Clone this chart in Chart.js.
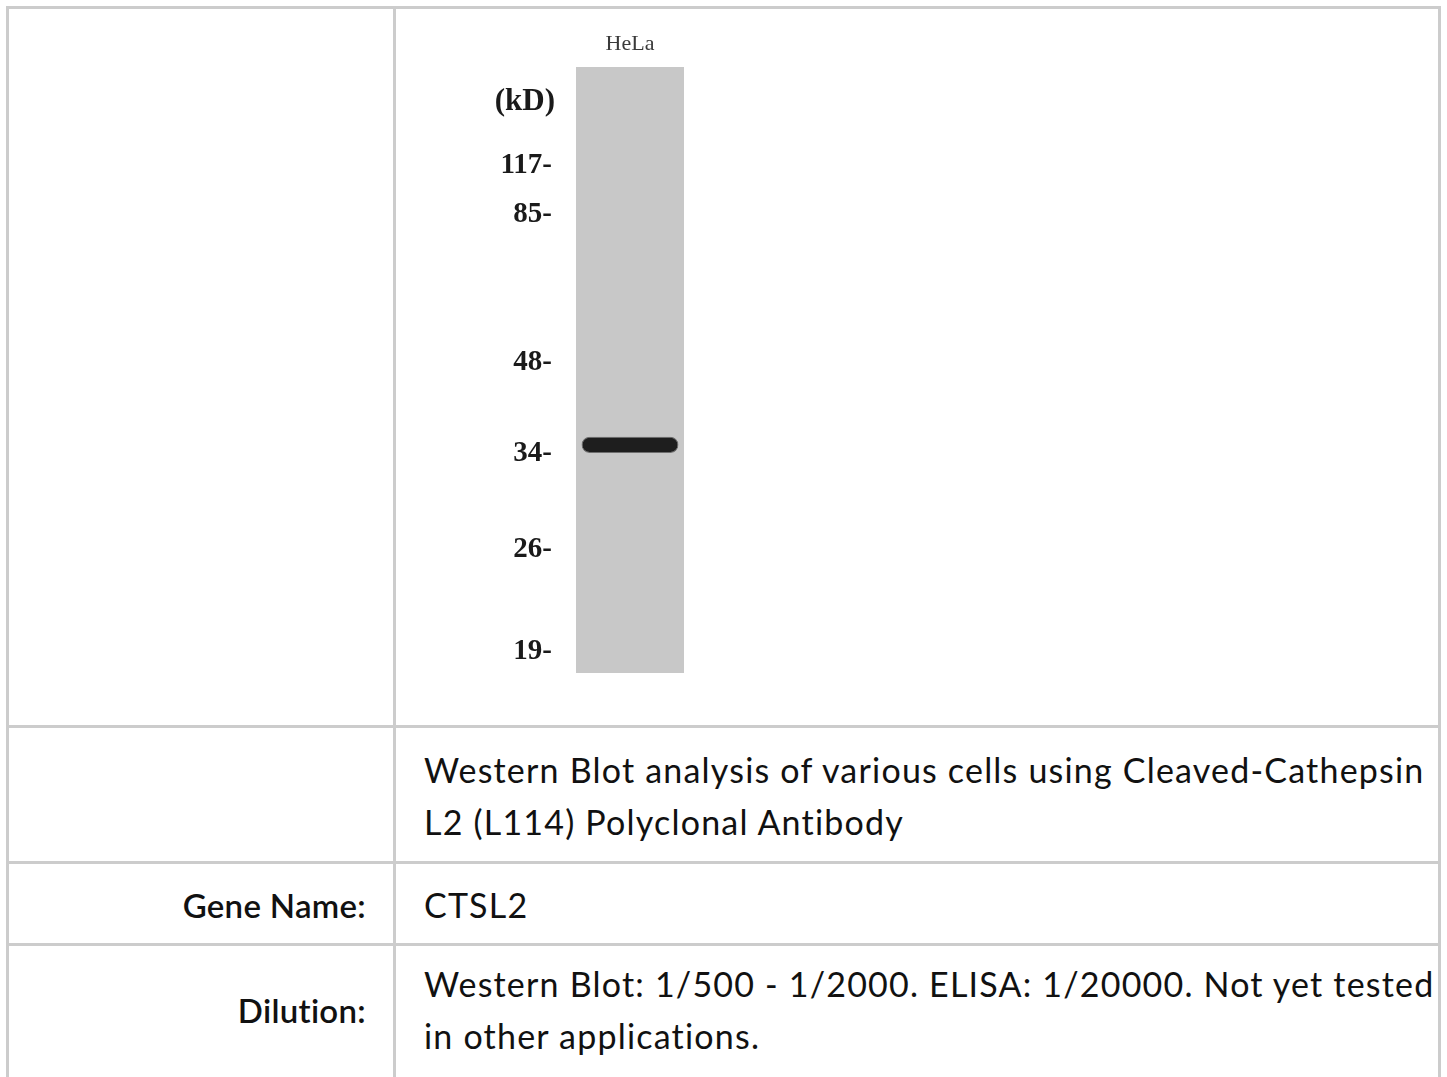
<!DOCTYPE html>
<html>
<head>
<meta charset="utf-8">
<script src="https://cdn.jsdelivr.net/npm/chart.js@4.4.1/dist/chart.umd.min.js"></script>
<style>
  body { margin: 0; background: #fff; width: 1447px; height: 1077px; overflow: hidden; position: relative; }
  .ln { position: absolute; background: rgb(204,204,204); }
  .txt { position: absolute; font-family: Lato, 'Liberation Sans', Arial, sans-serif; font-size: 34px; line-height: 52px; color: #111; letter-spacing: 1.2px; white-space: nowrap; }
  .lbl { text-align: right; font-weight: 600; font-size: 33px; letter-spacing: 0.3px; }
  #blot { position: absolute; left: 420px; top: 9px; width: 300px; height: 716px; }
</style>
</head>
<body>
<!-- table lines -->
<div class="ln" style="left:6px;top:6px;width:1435px;height:3px"></div>
<div class="ln" style="left:6px;top:6px;width:3px;height:1071px"></div>
<div class="ln" style="left:1438px;top:6px;width:3px;height:1071px"></div>
<div class="ln" style="left:393px;top:6px;width:3px;height:1071px"></div>
<div class="ln" style="left:6px;top:725px;width:1435px;height:3px"></div>
<div class="ln" style="left:6px;top:861px;width:1435px;height:3px"></div>
<div class="ln" style="left:6px;top:943px;width:1435px;height:3px"></div>

<div id="blot"><canvas id="wb"></canvas></div>

<div class="txt" style="left:424px;top:744px">Western Blot analysis of various cells using Cleaved-Cathepsin<br>L2 (L114) Polyclonal Antibody</div>
<div class="txt lbl" style="left:9px;width:357px;top:879px">Gene Name:</div>
<div class="txt" style="left:424px;top:879px">CTSL2</div>
<div class="txt lbl" style="left:9px;width:357px;top:984px">Dilution:</div>
<div class="txt" style="left:424px;top:958px">Western Blot: 1/500 - 1/2000. ELISA: 1/20000. Not yet tested<br>in other applications.</div>

<script>
// lane and markers (migration as % of lane length from the top of the gel)
const lanes = ['HeLa'];
const markerKD = [117, 85, 48, 34, 26, 19];
const markerMigration = [16.2, 24.3, 48.7, 63.7, 79.7, 96.5];
const laneSpan = [0, 100];
const bandSpan = [61.0, 63.7]; // the ~35 kD band in HeLa
const unitLabel = '(kD)';

const serif = '"Liberation Serif", "Times New Roman", serif';

const kdHeader = {
  id: 'kdHeader',
  afterDraw(chart) {
    const c = chart.ctx, a = chart.chartArea;
    c.save();
    c.font = 'bold 31px ' + serif;
    c.fillStyle = '#1a1a1a';
    c.textAlign = 'right';
    c.textBaseline = 'middle';
    c.fillText(unitLabel, a.left - 5, a.top + 35);
    c.restore();
  }
};

const ctx = document.getElementById('wb').getContext('2d');
const wb = new Chart(ctx, {
  type: 'bar',
  data: {
    labels: lanes,
    datasets: [
      {
        label: 'band',
        data: [bandSpan],
        backgroundColor: '#1e1e1e',
        borderColor: 'rgba(50,50,50,0.6)',
        borderWidth: 1,
        borderRadius: 8,
        borderSkipped: false,
        barPercentage: 0.693,
        categoryPercentage: 1,
        grouped: false,
        order: 0
      },
      {
        label: 'lane',
        data: [laneSpan],
        backgroundColor: 'rgb(200,200,200)',
        borderWidth: 0,
        barPercentage: 0.7714,
        categoryPercentage: 1,
        grouped: false,
        order: 1
      }
    ]
  },
  options: {
    responsive: true,
    maintainAspectRatio: false,
    animation: false,
    devicePixelRatio: 1,
    layout: { padding: { top: 0, left: 0, right: 20, bottom: 52 } },
    plugins: { legend: { display: false }, tooltip: { enabled: false } },
    scales: {
      x: {
        position: 'top',
        grid: { display: false, drawTicks: false },
        border: { display: false },
        ticks: {
          padding: 10,
          color: '#3a3a3a',
          font: { family: serif, size: 22 }
        },
        afterFit: s => { s.height = 58; }
      },
      y: {
        reverse: true,
        min: 0,
        max: 100,
        grid: { display: false, drawTicks: false },
        border: { display: false },
        afterBuildTicks: s => { s.ticks = markerMigration.map(v => ({ value: v })); },
        afterFit: s => { s.width = 140; },
        ticks: {
          autoSkip: false,
          padding: 8,
          color: '#1a1a1a',
          font: { family: serif, size: 29, weight: 'bold' },
          callback: (v, i) => markerKD[i] + '-'
        }
      }
    }
  },
  plugins: [kdHeader]
});
</script>
</body>
</html>
